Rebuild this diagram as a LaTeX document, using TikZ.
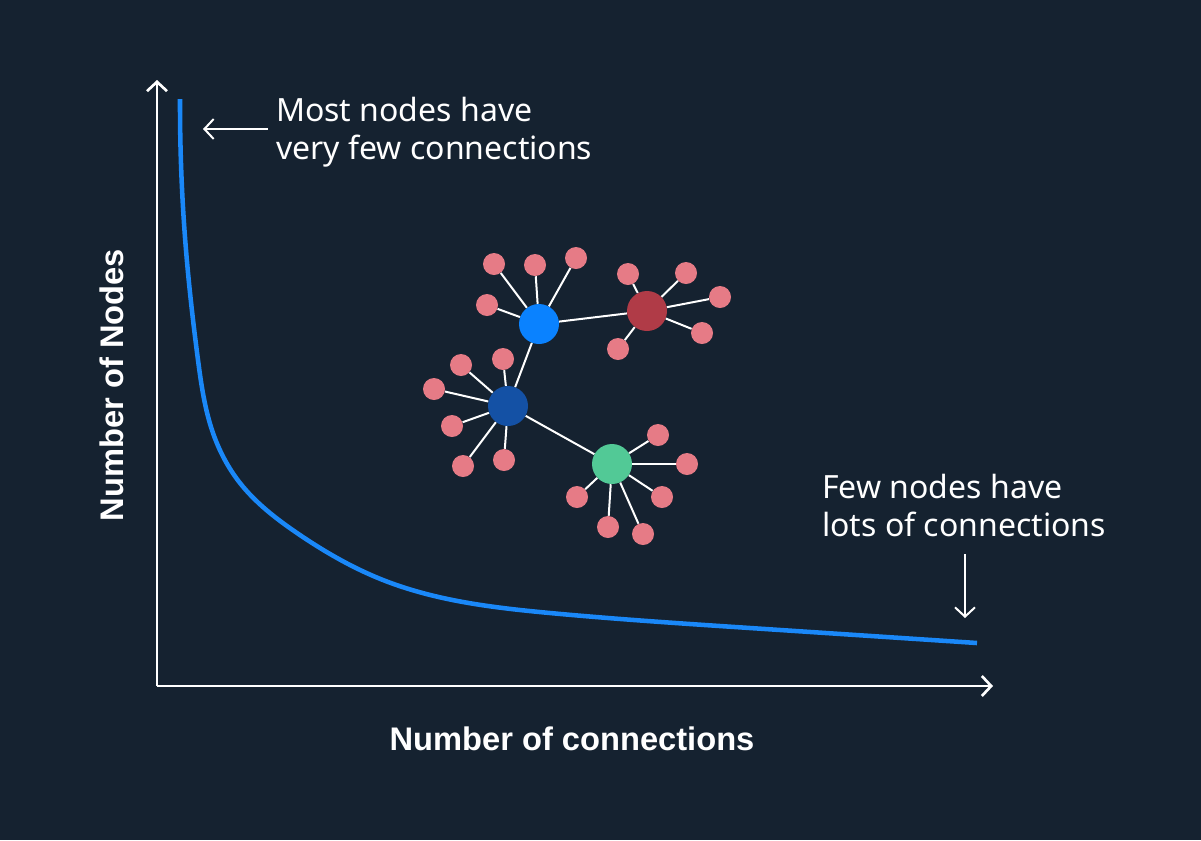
\documentclass[tikz,border=0pt]{standalone}
\usepackage{fontspec}
\setmainfont{Noto Sans}
\newfontfamily\labelfont{Liberation Sans}
\usetikzlibrary{arrows.meta, hobby}

\definecolor{bgnavy}{HTML}{152230}
\definecolor{curveblue}{HTML}{1A88F8}
\definecolor{hubblue}{HTML}{0A82FF}
\definecolor{hubdark}{HTML}{1451A5}
\definecolor{hubred}{HTML}{B03B47}
\definecolor{hubgreen}{HTML}{52C996}
\definecolor{leafpink}{HTML}{E67B86}

\tikzset{
  hub/.style={circle, inner sep=0pt, minimum size=30pt},
  leaf/.style={circle, fill=leafpink, inner sep=0pt, minimum size=16.5pt},
  link/.style={white, line width=1.5pt},
  axis/.style={white, line width=2pt, -{Straight Barb[length=7pt,width=15pt]}},
  pointer/.style={white, line width=1.5pt, -{Straight Barb[length=7pt,width=15pt]}},
  note/.style={text=white, align=left, inner sep=0pt,
    font=\fontsize{24}{28.5}\selectfont},
  axislabel/.style={text=white, inner sep=0pt,
    font=\labelfont\fontsize{24.5}{28}\selectfont\bfseries}
}

\begin{document}
\begin{tikzpicture}[x=0.75pt, y=-0.75pt]
  % Background and frame
  \fill[bgnavy] (0,0) rectangle (1201,840);
  \useasboundingbox (0,0) rectangle (1201,840);

  % Axes
  \coordinate (origin) at (157,686);
  \coordinate (ytip) at (157,80);
  \coordinate (xtip) at (993,686);
  \draw[axis] (origin) -- (ytip);
  \draw[axis] (origin) -- (xtip);

  % Axis labels
  \node[axislabel, anchor=base] (xlabel) at (572,750) {Number of connections};
  \node[axislabel, anchor=base, rotate=90] (ylabel) at (123,385) {Number of Nodes};

  % Power-law curve
  \draw[curveblue, line width=3.4pt, use Hobby shortcut]
    (180,99) .. (186,250) .. (198,360) .. (213,433) .. (240,483)
    .. (297,533) .. (383,580) .. (550,613) .. (750,628) .. (977,643);

  % Annotations
  \node[note, anchor=north west] (topnote) at (276,97)
    {Most nodes have\\very few connections};
  \coordinate (topstart) at (268,129);
  \coordinate (topend) at (203,129);
  \draw[pointer] (topstart) -- (topend);

  \node[note, anchor=north west] (bottomnote) at (822,474)
    {Few nodes have\\lots of connections};
  \coordinate (downstart) at (965,554);
  \coordinate (downend) at (965,618);
  \draw[pointer] (downstart) -- (downend);

  % Hubs
  \node[hub, fill=hubblue]  (hubA) at (539,324) {};
  \node[hub, fill=hubred]   (hubB) at (647,311) {};
  \node[hub, fill=hubdark]  (hubC) at (508,406) {};
  \node[hub, fill=hubgreen] (hubD) at (612,464) {};

  % Links between hubs
  \draw[link] (hubA) -- (hubB);
  \draw[link] (hubA) -- (hubC);
  \draw[link] (hubC) -- (hubD);

  % Leaves of each hub
  \foreach \x/\y [count=\i] in {494/264, 535/265, 576/258, 487/305} {
    \node[leaf] (a\i) at (\x,\y) {};
    \draw[link] (hubA) -- (a\i);
  }
  \foreach \x/\y [count=\i] in {628/274, 686/273, 720/297, 702/333, 618/349} {
    \node[leaf] (b\i) at (\x,\y) {};
    \draw[link] (hubB) -- (b\i);
  }
  \foreach \x/\y [count=\i] in {461/365, 503/359, 434/389, 452/426, 463/466, 504/460} {
    \node[leaf] (c\i) at (\x,\y) {};
    \draw[link] (hubC) -- (c\i);
  }
  \foreach \x/\y [count=\i] in {658/435, 687/464, 662/497, 643/534, 608/527, 577/497} {
    \node[leaf] (d\i) at (\x,\y) {};
    \draw[link] (hubD) -- (d\i);
  }
\end{tikzpicture}
\end{document}
